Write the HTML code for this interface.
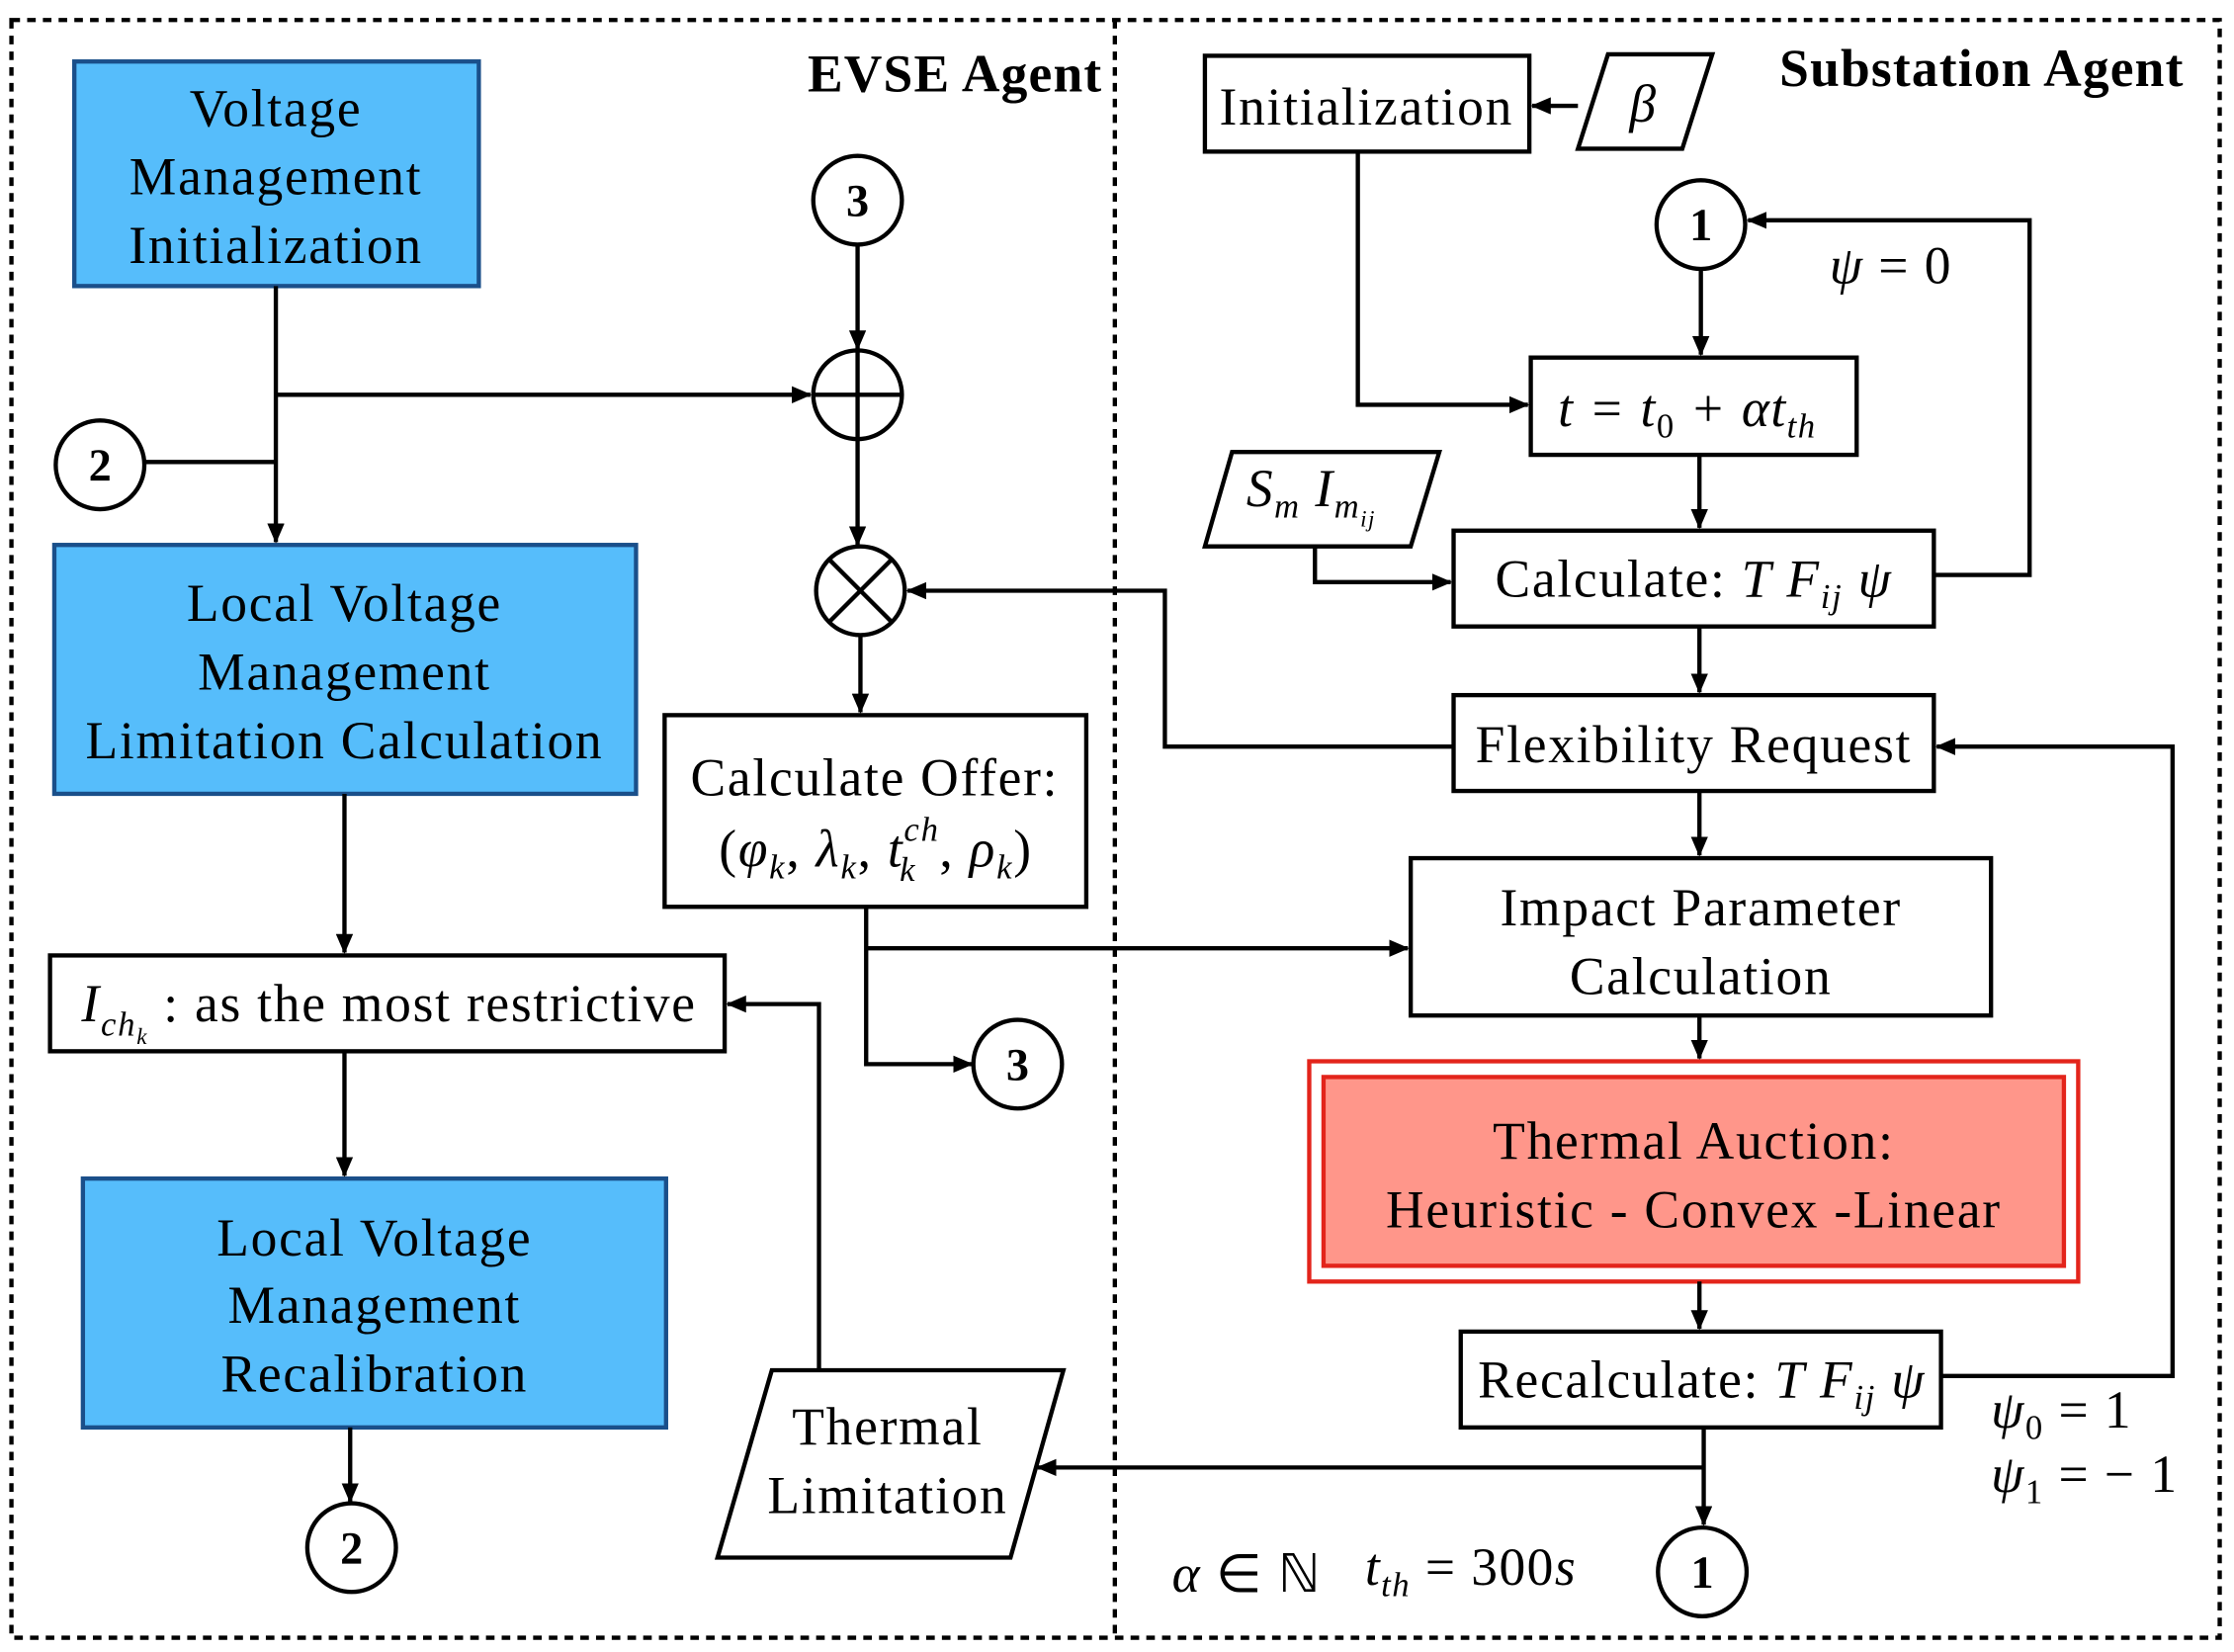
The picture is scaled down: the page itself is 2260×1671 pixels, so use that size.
<!DOCTYPE html>
<html><head><meta charset="utf-8"><style>
html,body{margin:0;padding:0;background:#fff;}
svg{display:block;}
text{font-family:"Liberation Serif",serif;fill:#000;}
.t{font-size:37px;letter-spacing:1.2px;}
.m{font-size:37px;font-style:italic;letter-spacing:1px;}
.b{font-size:37px;font-weight:bold;letter-spacing:0.8px;}
.c{font-size:32px;font-weight:bold;}
</style></head><body>
<svg width="2260" height="1671" viewBox="0 0 1563 1155" preserveAspectRatio="none" xmlns="http://www.w3.org/2000/svg">
<defs>
<marker id="a" markerWidth="14" markerHeight="12" refX="13" refY="6" orient="auto" markerUnits="userSpaceOnUse">
<path d="M0,0 L14,6 L0,12 Z" fill="#000"/></marker>
</defs>
<rect width="1563" height="1155" fill="#fff"/>
<g fill="none" stroke="#000" stroke-width="3" stroke-dasharray="6,5">
<rect x="8" y="14" width="1545" height="1131"/>
<line x1="780" y1="14" x2="780" y2="1145"/>
</g>
<text class="b" x="565" y="64">EVSE Agent</text>
<text class="b" x="1245" y="60">Substation Agent</text>

<g fill="#56BDFB" stroke="#1a4f8a" stroke-width="3">
<rect x="52" y="43" width="283" height="157"/>
<rect x="38" y="381" width="407" height="174"/>
<rect x="58" y="824" width="408" height="174"/>
</g>
<g class="t" text-anchor="middle">
<text x="193" y="88">Voltage</text><text x="193" y="136">Management</text><text x="193" y="184">Initialization</text>
<text x="241" y="434">Local Voltage</text><text x="241" y="482">Management</text><text x="241" y="530">Limitation Calculation</text>
<text x="262" y="878">Local Voltage</text><text x="262" y="925">Management</text><text x="262" y="973">Recalibration</text>
</g>

<g fill="#fff" stroke="#000" stroke-width="3">
<rect x="35" y="668" width="472" height="67"/>
<rect x="465" y="500" width="295" height="134"/>
<polygon points="540,958 744,958 707,1089 502,1089"/>
<rect x="843" y="39" width="227" height="67"/>
<polygon points="1125,38 1198,38 1177,104 1104,104"/>
<rect x="1071" y="250" width="228" height="68"/>
<polygon points="862,316 1007,316 987,382 843,382"/>
<rect x="1017" y="371" width="336" height="67"/>
<rect x="1017" y="486" width="336" height="67"/>
<rect x="987" y="600" width="406" height="110"/>
<rect x="1022" y="931" width="336" height="67"/>
<circle cx="600" cy="140" r="31"/>
<circle cx="600" cy="276" r="31"/>
<circle cx="602" cy="413" r="31"/>
<circle cx="70" cy="325" r="31"/>
<circle cx="246" cy="1082" r="31"/>
<circle cx="712" cy="744" r="31"/>
<circle cx="1190" cy="157" r="31"/>
<circle cx="1191" cy="1099" r="31"/>
</g>
<rect x="916" y="742" width="538" height="154" fill="#fff" stroke="#e3241b" stroke-width="3"/>
<rect x="926" y="753" width="518" height="132" fill="#FF968A" stroke="#e3241b" stroke-width="3"/>
<g stroke="#000" stroke-width="3">
<line x1="569" y1="276" x2="631" y2="276"/><line x1="600" y1="245" x2="600" y2="307"/>
<line x1="580" y1="391" x2="624" y2="435"/><line x1="624" y1="391" x2="580" y2="435"/>
</g>
<g class="c" text-anchor="middle">
<text x="600" y="151">3</text><text x="70" y="336">2</text><text x="246" y="1093">2</text>
<text x="712" y="755">3</text><text x="1190" y="168">1</text><text x="1191" y="1110">1</text>
</g>

<g fill="none" stroke="#000" stroke-width="3">
<path d="M193,200 V379" marker-end="url(#a)"/>
<path d="M193,276 H567" marker-end="url(#a)"/>
<path d="M101,323 H193"/>
<path d="M600,171 V244" marker-end="url(#a)"/>
<path d="M600,307 V381" marker-end="url(#a)"/>
<path d="M602,444 V498" marker-end="url(#a)"/>
<path d="M241,555 V666" marker-end="url(#a)"/>
<path d="M241,735 V822" marker-end="url(#a)"/>
<path d="M245,998 V1050" marker-end="url(#a)"/>
<path d="M606,634 V744 H680" marker-end="url(#a)"/>
<path d="M606,663 H985" marker-end="url(#a)"/>
<path d="M573,958 V702 H509" marker-end="url(#a)"/>
<path d="M1104,74 H1072" marker-end="url(#a)"/>
<path d="M950,106 V283 H1069" marker-end="url(#a)"/>
<path d="M1190,188 V248" marker-end="url(#a)"/>
<path d="M1189,318 V369" marker-end="url(#a)"/>
<path d="M920,382 V407 H1015" marker-end="url(#a)"/>
<path d="M1353,402 H1420 V154 H1223" marker-end="url(#a)"/>
<path d="M1189,438 V484" marker-end="url(#a)"/>
<path d="M1017,522 H815 V413 H635" marker-end="url(#a)"/>
<path d="M1189,553 V598" marker-end="url(#a)"/>
<path d="M1189,710 V740" marker-end="url(#a)"/>
<path d="M1189,896 V929" marker-end="url(#a)"/>
<path d="M1358,962 H1520 V522 H1355" marker-end="url(#a)"/>
<path d="M1192,998 V1066" marker-end="url(#a)"/>
<path d="M1192,1026 H726" marker-end="url(#a)"/>
</g>

<text class="t" x="57" y="714"><tspan font-style="italic">I</tspan><tspan font-style="italic" font-size="24" dy="10">ch</tspan><tspan font-style="italic" font-size="16" dy="6">k</tspan><tspan dy="-16"> : as the most restrictive</tspan></text>
<text class="t" x="612" y="556" text-anchor="middle">Calculate Offer:</text>
<text class="t" x="503" y="606">(<tspan font-style="italic">φ</tspan><tspan font-style="italic" font-size="24" dy="8">k</tspan><tspan dy="-8">, </tspan><tspan font-style="italic">λ</tspan><tspan font-style="italic" font-size="24" dy="8">k</tspan><tspan dy="-8">, </tspan><tspan font-style="italic">t</tspan><tspan font-style="italic" font-size="24" dy="-18">ch</tspan><tspan font-style="italic" font-size="24" dx="-28" dy="28">k</tspan><tspan dx="16" dy="-10">, </tspan><tspan font-style="italic">ρ</tspan><tspan font-style="italic" font-size="24" dy="8">k</tspan><tspan dy="-8">)</tspan></text>
<text class="t" x="621" y="1010" text-anchor="middle">Thermal</text>
<text class="t" x="621" y="1058" text-anchor="middle">Limitation</text>
<text class="t" x="956" y="87" text-anchor="middle">Initialization</text>
<text class="m" x="1140" y="85">β</text>
<text class="m" x="1090" y="298">t = t<tspan font-size="24" font-style="normal" dy="8">0</tspan><tspan dy="-8"> + αt</tspan><tspan font-size="24" dy="8">th</tspan></text>
<text class="m" x="872" y="354">S<tspan font-size="24" dy="8">m</tspan><tspan dy="-8"> I</tspan><tspan font-size="24" dy="8">m</tspan><tspan font-size="16" dy="6">ij</tspan></text>
<text class="t" x="1046" y="417">Calculate: <tspan font-style="italic">T F</tspan><tspan font-style="italic" font-size="24" dy="8">ij</tspan><tspan font-style="italic" dy="-8"> ψ</tspan></text>
<text class="m" x="1280" y="198">ψ <tspan font-style="normal">= 0</tspan></text>
<text class="t" x="1185" y="533" text-anchor="middle">Flexibility Request</text>
<text class="t" x="1190" y="647" text-anchor="middle">Impact Parameter</text>
<text class="t" x="1190" y="695" text-anchor="middle">Calculation</text>
<text class="t" x="1185" y="810" text-anchor="middle">Thermal Auction:</text>
<text class="t" x="1185" y="858" text-anchor="middle">Heuristic - Convex -Linear</text>
<text class="t" x="1034" y="977">Recalculate: <tspan font-style="italic">T F</tspan><tspan font-style="italic" font-size="24" dy="8">ij</tspan><tspan font-style="italic" dy="-8"> ψ</tspan></text>
<text class="m" x="1393" y="998">ψ<tspan font-size="24" font-style="normal" dy="8">0</tspan><tspan font-style="normal" dy="-8"> = 1</tspan></text>
<text class="m" x="1393" y="1043">ψ<tspan font-size="24" font-style="normal" dy="8">1</tspan><tspan font-style="normal" dy="-8"> = − 1</tspan></text>
<text class="m" x="820" y="1113">α <tspan font-style="normal">∈ ℕ</tspan></text>
<text class="m" x="955" y="1108">t<tspan font-size="24" dy="8">th</tspan><tspan font-style="normal" dy="-8"> = 300</tspan>s</text>
</svg>
</body></html>
